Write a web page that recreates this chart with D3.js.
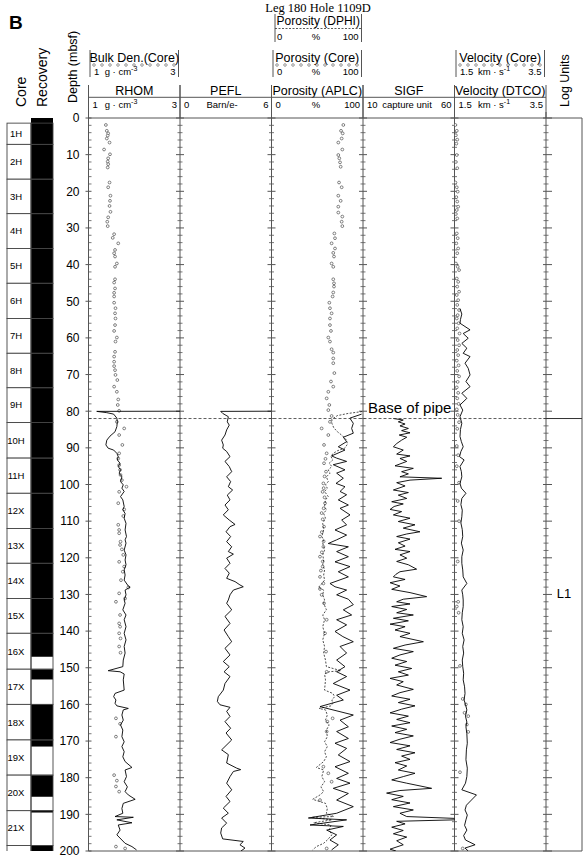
<!DOCTYPE html>
<html>
<head>
<meta charset="utf-8">
<script src="https://cdn.jsdelivr.net/npm/d3@7"></script>
<style>
body { margin: 0; background: #fff; }
text { font-family: Arial, "Liberation Sans", Helvetica, sans-serif; fill: #000; }
</style>
</head>
<body>
<svg id="chart" width="587" height="859"></svg>
<script>
// depth (mbsf), value pairs

var rhomLog = [[80.0,3.0],[80.05,1.18],[80.4,1.40],[80.8,1.55],[81.9,1.62],[82.9,1.63],[84.2,1.62],[85.6,1.58],[86.8,1.47],[87.9,1.40],[89.2,1.38],[90.1,1.43],[90.6,1.55],[91.5,1.62],[92.4,1.65],[93.3,1.63],[94.2,1.69],[95.1,1.65],[96.0,1.70],[96.9,1.67],[97.9,1.73],[99.2,1.70],[100.1,1.76],[101.0,1.73],[101.9,1.78],[103.3,1.70],[104.2,1.75],[106.0,1.78],[106.9,1.75],[107.9,1.80],[109.2,1.78],[110.6,1.82],[112.4,1.80],[114.2,1.83],[115.1,1.80],[116.0,1.82],[117.9,1.78],[119.2,1.82],[120.6,1.80],[121.9,1.82],[123.3,1.78],[124.7,1.80],[126.1,1.78],[127.7,1.87],[128.0,1.91],[128.8,1.80],[130.1,1.82],[131.5,1.78],[132.4,1.80],[134.2,1.75],[135.6,1.82],[136.9,1.78],[138.8,1.82],[140.6,1.78],[142.4,1.82],[144.2,1.78],[146.0,1.80],[147.9,1.76],[149.7,1.75],[150.8,1.43],[151.1,1.69],[151.7,1.78],[153.3,1.76],[156.1,1.78],[157.0,1.58],[157.9,1.55],[158.8,1.60],[159.7,1.58],[160.4,1.62],[161.1,1.87],[161.5,1.76],[162.9,1.73],[164.3,1.76],[165.6,1.70],[167.0,1.75],[168.8,1.73],[170.2,1.78],[171.5,1.73],[172.9,1.78],[174.3,1.75],[175.6,1.80],[177.2,1.95],[177.9,1.80],[179.7,1.83],[181.1,1.78],[182.5,1.85],[183.8,1.80],[184.7,1.87],[185.9,2.02],[187.0,1.76],[188.4,1.73],[189.7,1.75],[190.6,1.58],[190.8,1.98],[191.5,1.62],[192.3,1.95],[192.9,1.65],[194.3,1.69],[195.6,1.62],[197.0,1.73],[197.9,1.80],[198.8,1.95],[199.7,2.05]];

var rhomCore = [[1.9,1.38],[3.5,1.40],[4.2,1.43],[4.8,1.42],[5.6,1.40],[6.7,1.46],[8.6,1.34],[9.9,1.47],[11.0,1.43],[11.9,1.42],[12.6,1.43],[13.5,1.42],[17.6,1.46],[18.9,1.43],[21.2,1.48],[22.6,1.47],[24.0,1.46],[25.6,1.48],[27.1,1.43],[28.3,1.41],[29.5,1.42],[31.7,1.56],[32.7,1.53],[34.2,1.65],[36.0,1.58],[36.9,1.56],[37.8,1.58],[39.7,1.62],[40.6,1.58],[44.0,1.58],[44.9,1.56],[46.5,1.58],[47.7,1.56],[48.7,1.56],[50.4,1.56],[51.9,1.59],[53.3,1.58],[54.7,1.59],[56.5,1.58],[58.1,1.56],[59.9,1.62],[61.0,1.59],[63.8,1.58],[65.1,1.56],[66.5,1.56],[67.7,1.56],[68.8,1.58],[70.1,1.59],[71.5,1.63],[73.3,1.56],[74.7,1.62],[76.8,1.65],[78.3,1.64],[79.9,1.67],[82.9,1.62],[84.7,1.78],[86.5,1.67],[89.2,1.74],[91.5,1.67],[92.9,1.65],[94.7,1.67],[96.0,1.69],[97.4,1.70],[98.8,1.73],[100.6,1.83],[102.0,1.67],[105.1,1.65],[106.8,1.78],[108.6,1.76],[111.0,1.65],[112.4,1.67],[113.3,1.67],[115.6,1.70],[116.5,1.69],[117.7,1.73],[119.2,1.76],[121.1,1.67],[122.4,1.78],[123.8,1.75],[126.1,1.71],[128.1,1.87],[129.7,1.67],[131.1,1.80],[132.0,1.60],[135.6,1.69],[137.9,1.67],[138.8,1.69],[140.6,1.67],[142.0,1.70],[144.2,1.67],[145.9,1.70],[163.8,1.60],[165.3,1.69],[168.8,1.60],[179.3,1.56],[180.8,1.62],[182.4,1.60],[183.8,1.67],[198.8,1.60],[199.3,1.80]];

var pefLog = [[80.0,6.0],[80.05,2.67],[80.6,2.80],[81.5,3.17],[82.9,3.10],[83.8,3.23],[85.1,3.06],[86.5,2.95],[87.9,2.73],[89.2,2.84],[90.1,2.80],[91.0,3.06],[92.4,3.28],[93.7,2.95],[95.1,3.23],[96.5,3.39],[97.9,3.06],[99.2,3.32],[100.6,3.17],[101.5,3.45],[102.9,3.10],[104.2,3.28],[105.6,2.95],[106.9,3.17],[108.3,2.84],[109.7,3.23],[110.9,3.61],[111.5,3.28],[112.9,3.02],[114.2,3.32],[115.6,3.06],[117.0,3.39],[118.3,3.17],[119.0,3.50],[120.1,3.06],[121.5,3.28],[122.9,2.95],[124.2,3.23],[125.6,3.06],[126.5,3.61],[127.4,3.93],[127.9,4.15],[128.8,3.50],[130.1,3.28],[131.5,3.17],[132.4,3.06],[134.2,3.39],[136.0,2.95],[137.9,3.28],[139.7,2.89],[141.5,3.17],[142.9,3.39],[144.7,2.95],[146.5,3.28],[148.3,2.84],[149.7,3.23],[151.1,2.89],[152.4,3.28],[154.3,2.95],[156.1,2.84],[157.9,2.51],[159.2,2.45],[160.1,2.62],[160.8,3.28],[161.9,3.06],[163.3,3.28],[164.7,2.95],[166.5,3.32],[167.8,3.02],[169.7,3.39],[172.4,2.73],[173.7,3.17],[176.0,3.06],[177.4,3.72],[177.8,3.98],[178.3,3.50],[179.7,3.28],[181.5,3.06],[183.3,3.39],[185.1,3.02],[186.5,3.28],[188.3,2.84],[189.7,3.17],[191.0,2.73],[192.4,3.06],[193.7,2.73],[195.1,2.67],[196.7,2.80],[197.4,4.15],[198.3,3.93],[199.2,4.26],[200.0,4.0]];

var aplcLog = [[80.8,98.5],[81.9,85.6],[83.3,89.4],[84.7,87.6],[86.0,89.4],[87.1,78.5],[88.3,82.1],[89.7,73.0],[90.6,80.3],[92.2,65.7],[92.8,71.2],[93.7,82.1],[94.6,67.5],[96.0,80.3],[96.9,71.2],[98.3,78.5],[99.7,70.5],[100.6,80.3],[101.9,74.9],[102.8,82.1],[104.2,73.0],[105.6,84.0],[106.5,74.9],[108.3,85.8],[109.7,76.7],[111.0,82.1],[112.4,69.4],[113.8,82.1],[115.1,71.2],[116.1,62.0],[117.0,84.0],[118.3,71.2],[119.7,84.0],[121.1,69.4],[122.4,85.8],[123.8,73.0],[125.2,84.0],[127.0,63.9],[127.9,69.4],[128.8,82.1],[130.1,71.2],[131.3,84.0],[132.8,89.4],[134.2,78.5],[135.6,87.6],[136.9,71.2],[138.3,82.1],[140.1,69.4],[141.5,78.0],[142.9,89.4],[144.2,74.9],[146.0,82.1],[147.9,71.2],[149.7,80.3],[151.1,71.2],[152.4,82.1],[154.3,67.5],[156.1,85.8],[157.5,71.2],[158.8,78.5],[160.6,53.0],[161.3,63.9],[162.9,89.4],[164.3,74.9],[166.1,84.0],[167.4,71.2],[169.3,84.0],[170.6,69.4],[172.0,82.1],[173.8,73.0],[175.6,85.8],[177.0,69.4],[178.8,84.0],[180.2,71.2],[181.5,85.8],[182.9,67.5],[184.3,84.0],[186.1,71.2],[187.9,89.4],[189.7,71.2],[191.0,40.3],[191.5,82.1],[192.9,42.1],[193.3,78.5],[194.3,60.3],[195.6,71.2],[197.0,63.9],[198.3,73.0],[199.7,65.7]];

var dphiLog = [[80.1,99],[80.6,84],[81.2,72],[82.2,66],[83.3,66],[84.5,68],[85.6,72],[86.8,78],[87.9,82],[89.0,83],[90.1,80],[90.8,72],[91.6,67],[92.4,65],[93.3,67],[94.2,63],[95.1,66],[96.0,62],[96.9,64],[97.9,60],[99.2,62],[100.1,59],[101.0,61],[101.9,58],[103.3,62],[104.2,59],[106.0,58],[106.9,60],[107.9,57],[109.2,59],[110.6,56],[112.4,57],[114.2,55],[115.1,57],[116.0,56],[117.9,58],[119.2,56],[120.6,57],[121.9,56],[123.3,58],[124.7,57],[126.1,58],[127.7,53],[128.0,51],[128.8,57],[130.1,56],[131.5,58],[132.4,57],[134.2,60],[135.6,56],[136.9,58],[138.8,56],[140.6,58],[142.4,56],[144.2,58],[146.0,57],[147.9,59],[149.7,60],[150.8,76],[151.1,63],[151.7,58],[153.3,59],[156.1,58],[157.0,67],[157.9,69],[158.8,66],[159.7,67],[160.4,65],[161.1,52],[161.5,59],[162.9,61],[164.3,59],[165.6,63],[167.0,60],[168.8,61],[170.2,58],[171.5,61],[172.9,58],[174.3,60],[175.6,57],[177.2,49],[177.9,57],[179.7,55],[181.1,58],[182.5,54],[183.8,57],[184.7,53],[185.9,45],[187.0,59],[188.4,61],[189.7,60],[190.6,68],[190.8,44],[191.5,66],[192.3,46],[192.9,65],[194.3,63],[195.6,66],[197.0,61],[197.9,57],[198.8,49],[199.7,45]];

var porCore = [[1.9,78.5],[3.5,76.0],[4.2,77.8],[5.6,76.7],[6.7,73.0],[8.6,77.4],[10.1,73.0],[11.0,74.1],[12.1,74.9],[13.3,75.6],[17.6,73.8],[18.9,76.7],[21.2,73.0],[22.6,75.6],[24.2,73.0],[25.8,73.0],[26.9,77.4],[28.3,76.7],[29.5,77.4],[31.5,68.7],[32.8,69.4],[34.2,65.7],[35.6,69.4],[36.8,67.5],[37.8,68.3],[39.7,65.7],[40.6,67.5],[44.0,67.5],[45.1,68.3],[46.0,68.3],[47.6,67.5],[48.7,66.8],[50.4,63.2],[51.9,63.9],[53.3,65.7],[54.7,63.9],[56.5,63.9],[58.1,65.0],[59.9,62.1],[61.0,63.9],[63.1,65.7],[64.0,67.5],[65.6,67.5],[66.9,67.5],[69.6,68.7],[71.9,65.0],[73.3,67.5],[74.7,62.1],[76.5,60.3],[78.3,63.2],[79.7,62.1],[81.3,65.7],[82.9,63.9],[84.7,54.8],[86.5,62.1],[89.2,57.4],[91.5,60.3],[93.0,59.0],[94.2,57.4],[96.5,59.6],[97.8,58.0],[99.7,56.7],[101.0,57.0],[102.0,55.9],[103.5,58.0],[105.1,58.5],[106.5,57.0],[107.8,54.8],[109.5,56.0],[111.5,57.4],[113.0,55.0],[114.2,53.0],[115.5,57.0],[117.0,56.7],[118.5,55.0],[119.7,53.0],[121.0,56.0],[122.4,55.9],[123.5,54.0],[125.2,53.0],[127.0,56.7],[128.5,53.0],[130.1,54.8],[132.4,57.4],[136.9,60.3],[140.6,58.5],[145.6,59.6],[151.1,60.3],[163.8,66.8],[164.7,61.0],[167.4,60.3],[177.0,56.7],[178.8,62.1],[181.1,65.7],[186.1,53.0],[199.3,60.3]];

var sigfLog = [[82.0,26.6],[82.4,32.0],[82.9,29.3],[83.5,33.0],[84.0,30.2],[84.7,34.8],[85.3,31.1],[85.9,35.7],[86.5,29.8],[87.1,33.9],[87.9,31.1],[88.8,28.5],[89.7,26.6],[90.6,32.0],[91.7,28.4],[92.2,35.7],[92.9,30.2],[93.7,33.9],[94.9,27.5],[95.6,37.5],[96.5,31.1],[97.1,34.8],[97.9,30.2],[98.3,53.0],[98.8,35.7],[99.5,28.4],[100.4,33.0],[101.5,26.6],[102.2,34.8],[102.9,29.3],[103.8,33.9],[104.7,25.7],[105.3,32.0],[106.0,27.0],[106.8,24.8],[107.4,31.1],[108.3,26.6],[109.2,35.7],[110.1,29.3],[111.0,38.4],[111.9,32.0],[112.9,41.1],[113.5,33.9],[114.2,28.4],[114.9,35.7],[115.9,29.3],[116.8,33.0],[117.7,27.5],[118.3,35.7],[119.2,30.2],[120.1,33.9],[121.0,28.4],[121.9,34.8],[123.1,39.3],[123.8,30.2],[124.5,28.0],[125.2,26.6],[125.9,33.0],[126.8,24.8],[127.7,30.2],[128.6,25.7],[129.5,35.7],[130.6,44.8],[131.3,32.0],[132.0,28.4],[132.6,35.7],[133.3,25.7],[134.1,33.9],[135.0,28.4],[135.6,37.5],[136.5,26.6],[137.2,34.8],[138.1,24.8],[138.8,33.0],[139.7,27.5],[140.6,35.7],[141.5,30.2],[142.9,43.0],[143.8,33.0],[144.7,26.6],[145.6,37.5],[146.5,30.2],[147.4,25.7],[148.3,33.9],[149.3,27.5],[150.2,36.6],[151.1,29.3],[152.0,34.8],[152.9,24.8],[153.8,32.0],[154.7,28.4],[155.9,37.5],[156.8,30.2],[157.7,25.7],[158.6,35.7],[159.5,29.3],[160.4,38.4],[161.3,31.1],[162.3,24.8],[163.2,34.8],[164.1,28.4],[165.0,35.7],[165.9,25.7],[166.8,33.9],[167.7,27.5],[168.6,37.5],[169.5,30.2],[170.4,24.8],[171.3,35.7],[172.3,28.4],[173.2,38.4],[174.1,31.1],[175.0,35.7],[175.9,27.5],[176.8,33.9],[177.9,29.3],[178.8,38.4],[179.7,32.0],[180.6,25.7],[181.5,33.9],[182.9,47.5],[183.5,30.2],[184.2,22.9],[185.1,32.0],[186.0,25.7],[186.9,35.7],[187.9,26.6],[188.8,37.5],[189.7,30.2],[190.6,33.9],[191.1,60.0],[191.5,60.0],[191.9,28.4],[192.6,33.0],[193.5,25.7],[194.4,32.0],[195.3,26.6],[196.2,33.9],[197.2,28.4],[198.3,32.0],[199.5,24.8],[200.0,28.0]];

var dtcoLog = [[52.0,1.62],[53.5,1.66],[55.0,1.63],[56.0,1.62],[57.8,1.84],[58.8,1.69],[60.1,1.80],[61.5,1.66],[62.8,1.77],[64.2,1.69],[65.1,1.84],[66.9,1.73],[68.3,1.80],[70.1,1.84],[71.9,1.75],[73.3,1.84],[75.1,1.66],[76.5,1.77],[78.3,1.62],[79.7,1.68],[81.5,1.62],[83.3,1.66],[85.0,1.63],[86.9,1.62],[88.3,1.65],[89.7,1.69],[91.0,1.64],[92.4,1.61],[93.3,1.71],[95.1,1.62],[96.5,1.65],[97.9,1.66],[99.7,1.62],[101.0,1.65],[102.4,1.75],[103.8,1.66],[105.5,1.64],[107.0,1.67],[108.8,1.66],[110.5,1.64],[112.3,1.67],[114.2,1.68],[116.0,1.65],[117.9,1.69],[119.7,1.66],[121.5,1.66],[123.3,1.68],[125.2,1.69],[127.0,1.77],[128.8,1.66],[130.1,1.68],[131.5,1.69],[133.3,1.69],[135.0,1.67],[136.9,1.66],[138.8,1.69],[140.6,1.67],[142.4,1.71],[144.2,1.68],[146.0,1.70],[147.9,1.67],[149.7,1.68],[151.5,1.70],[153.3,1.69],[155.2,1.72],[157.0,1.73],[158.8,1.71],[160.0,1.74],[161.5,1.77],[163.2,1.74],[164.8,1.77],[166.1,1.75],[168.0,1.77],[170.6,1.78],[172.4,1.76],[175.1,1.75],[177.4,1.78],[179.7,1.77],[181.5,1.74],[183.3,1.66],[184.7,1.98],[186.1,1.87],[187.5,1.76],[188.8,1.73],[190.2,1.78],[191.5,1.75],[193.0,1.72],[194.3,1.77],[195.8,1.70],[197.0,1.74],[198.3,1.95],[199.2,1.73],[200.0,1.80]];

var velCore = [[1.9,1.52],[3.5,1.55],[4.7,1.53],[5.9,1.56],[7.0,1.54],[10.1,1.55],[12.0,1.53],[13.7,1.56],[17.6,1.52],[18.9,1.55],[20.1,1.57],[21.6,1.54],[22.8,1.56],[24.2,1.58],[25.1,1.55],[26.2,1.53],[27.4,1.56],[31.5,1.55],[32.8,1.57],[34.2,1.54],[35.6,1.58],[36.9,1.56],[39.7,1.53],[40.6,1.57],[41.5,1.60],[43.8,1.55],[44.7,1.58],[46.0,1.56],[47.4,1.60],[48.3,1.55],[49.7,1.58],[51.0,1.56],[52.4,1.60],[53.8,1.57],[54.7,1.55],[56.0,1.59],[57.4,1.56],[58.8,1.61],[60.6,1.57],[62.0,1.60],[63.3,1.56],[64.7,1.58],[66.2,1.55],[67.5,1.59],[69.0,1.56],[70.5,1.60],[72.0,1.57],[73.5,1.55],[75.0,1.58],[76.5,1.56],[78.0,1.59],[79.5,1.55],[81.0,1.57],[83.0,1.60],[84.8,1.56],[89.5,1.55],[92.0,1.58],[95.0,1.55],[99.5,1.60],[104.5,1.57],[110.0,1.60],[121.0,1.57],[132.0,1.58],[133.3,1.55],[135.0,1.59],[149.5,1.62],[158.5,1.68],[160.0,1.75],[162.3,1.72],[163.2,1.80],[165.5,1.77],[167.5,1.80],[178.5,1.62],[199.3,1.68]];

// cores: name, top, bottom (mbsf) and recovered intervals
var coreNames = ["1H","2H","3H","4H","5H","6H","7H","8H","9H","10H","11H","12X","13X","14X","15X","16X","17X","18X","19X","20X","21X","22X"];
var coreTops = [1.4,7.2,16.7,26.1,35.6,45.1,54.7,64.2,73.6,83.1,92.8,102.4,112.0,121.5,131.1,140.6,150.4,160.0,169.7,179.3,189.0,198.5];
var coreBottoms = [7.2,16.7,26.1,35.6,45.1,54.7,64.2,73.6,83.1,92.8,102.4,112.0,121.5,131.1,140.6,150.4,160.0,169.7,179.3,189.0,198.5,208.0];
var recovered = [[0,147.0],[150.4,153.2],[160.0,171.5],[179.3,185.2],[189.0,189.5],[198.5,208.0]];

var depthTicks = d3.range(0, 201, 10);
var minorTicks = d3.range(0, 201, 2).filter(function(d) { return d % 10 != 0; });
var pipeDepth = 82;

var svg = d3.select("#chart");
var line_col = "#555";

var y = d3.scaleLinear().domain([0, 200]).range([118, 851]);

var xRhom = d3.scaleLinear().domain([1, 3]).range([88.5, 180]);
var xPef = d3.scaleLinear().domain([0, 6]).range([180, 271.5]);
var xPor = d3.scaleLinear().domain([0, 100]).range([271.5, 363]);
var xSig = d3.scaleLinear().domain([10, 60]).range([363, 454.5]);
var xVel = d3.scaleLinear().domain([1.5, 3.5]).range([454.5, 546]);

var tracks = [
	{x: xRhom, name: "RHOM", unit: "g · cm", sup: "-3", ux: 121, lo: "1", hi: "3"},
	{x: xPef, name: "PEFL", unit: "Barn/e-", sup: "", ux: 222, lo: "0", hi: "6"},
	{x: xPor, name: "Porosity (APLC)", unit: "%", sup: "", ux: 316, lo: "0", hi: "100"},
	{x: xSig, name: "SIGF", unit: "capture unit", sup: "", ux: 407, lo: "10", hi: "60"},
	{x: xVel, name: "Velocity (DTCO)", unit: "km · s", sup: "-1", ux: 494, lo: "1.5", hi: "3.5"}
];

// clip paths for each track
var defs = svg.append("defs");
tracks.forEach(function(t, i) {
	var r = t.x.range();
	defs.append("clipPath").attr("id", "clip" + i)
		.append("rect")
		.attr("x", r[0]).attr("y", y(0))
		.attr("width", r[1] - r[0]).attr("height", y(200) - y(0));
});
defs.append("clipPath").attr("id", "clipCore")
	.append("rect").attr("x", 0).attr("y", y(0)).attr("width", 60).attr("height", y(200) - y(0));

// title
svg.append("text").attr("x", 318).attr("y", 11.5)
	.attr("text-anchor", "middle")
	.style("font-family", "'Liberation Serif', 'Times New Roman', serif")
	.style("font-size", "12.5px")
	.text("Leg 180 Hole 1109D");

svg.append("text").attr("x", 9).attr("y", 29)
	.style("font-size", "19px").style("font-weight", "bold").text("B");

// rotated column titles
function vtext(x, yy, size, txt) {
	svg.append("text")
		.attr("transform", "translate(" + x + "," + yy + ") rotate(-90)")
		.style("font-size", size + "px")
		.text(txt);
}
vtext(26, 107, 14, "Core");
vtext(47, 107, 14, "Recovery");
vtext(77, 103, 12.5, "Depth (mbsf)");
vtext(569, 107, 12.5, "Log Units");

// header per track
var head = svg.append("g");
function hline(g, x1, x2, yy, dash) {
	g.append("line").attr("x1", x1).attr("x2", x2).attr("y1", yy).attr("y2", yy)
		.attr("stroke", dash ? "#333" : line_col).attr("stroke-width", dash ? 0.8 : 1)
		.attr("stroke-dasharray", dash || null);
}
function vline(g, xx, y1, y2) {
	g.append("line").attr("x1", xx).attr("x2", xx).attr("y1", y1).attr("y2", y2)
		.attr("stroke", line_col).attr("stroke-width", 1);
}
function scaleRow(g, x0, x1, yy, lo, hi, unit, sup, ux) {
	g.append("text").attr("x", x0 + 4).attr("y", yy).style("font-size", "9.5px").text(lo);
	g.append("text").attr("x", x1 - 3).attr("y", yy).attr("text-anchor", "end").style("font-size", "9.5px").text(hi);
	var u = g.append("text").attr("x", ux).attr("y", yy).attr("text-anchor", "middle").style("font-size", "9.5px").text(unit);
	if (sup) u.append("tspan").attr("dy", -4).style("font-size", "7px").text(sup);
}

tracks.forEach(function(t) {
	var r = t.x.range();
	vline(head, r[0], 85, 118);
	vline(head, r[1], 85, 118);
	head.append("text").attr("x", (r[0] + r[1]) / 2).attr("y", 95)
		.attr("text-anchor", "middle").style("font-size", "12.5px").text(t.name);
	scaleRow(head, r[0], r[1], 108, t.lo, t.hi, t.unit, t.sup, t.ux);
});
hline(head, 88.5, 546, 97.3);

// core data headers with circle legend
var coreHeads = [
	{x: xRhom, name: "Bulk Den.(Core)", t: tracks[0]},
	{x: xPor, name: "Porosity (Core)", t: tracks[2]},
	{x: xVel, name: "Velocity (Core)", t: tracks[4]}
];
coreHeads.forEach(function(c) {
	var r = c.x.range();
	var x0 = r[0] + 1.5, x1 = r[1] - 1.5;
	vline(head, x0, 50, 77);
	vline(head, x1, 50, 77);
	head.append("text").attr("x", (x0 + x1) / 2).attr("y", 62)
		.attr("text-anchor", "middle").style("font-size", "12.5px").text(c.name);
	head.selectAll(null).data(d3.range(x0 + 4, x1 - 2, 8)).join("circle")
		.attr("cx", function(d) { return d; }).attr("cy", 65)
		.attr("r", 1.3).attr("fill", "#fff").attr("stroke", "#555").attr("stroke-width", 0.6);
	scaleRow(head, x0, x1, 75, c.t.lo, c.t.hi, c.t.unit, c.t.sup, c.t.ux);
});

// DPHI header
(function() {
	var r = xPor.range();
	var x0 = r[0] + 3.5, x1 = r[1] - 1.5;
	vline(head, x0, 14, 42);
	vline(head, x1, 14, 42);
	head.append("text").attr("x", (x0 + x1) / 2).attr("y", 24.5)
		.attr("text-anchor", "middle").style("font-size", "12px").text("Porosity (DPHI)");
	hline(head, x0, x1, 28.5, "2,1.5");
	scaleRow(head, x0 - 2, x1, 39.5, "0", "100", "%", "", 316);
})();

// track frame
var frame = svg.append("g");
tracks.forEach(function(t) { vline(frame, t.x.range()[0], 118, 851); });
vline(frame, 546, 112, 851);
vline(frame, 582, 118, 851);
hline(frame, 88.5, 582, y(0));
hline(frame, 88.5, 582, y(200));

// depth ticks on every border
function borderTicks(xx, minL, minR, majL, majR) {
	frame.selectAll(null).data(minorTicks).join("line")
		.attr("x1", xx - minL).attr("x2", xx + minR)
		.attr("y1", function(d) { return y(d); }).attr("y2", function(d) { return y(d); })
		.attr("stroke", line_col).attr("stroke-width", 0.8);
	frame.selectAll(null).data(depthTicks).join("line")
		.attr("x1", xx - majL).attr("x2", xx + majR)
		.attr("y1", function(d) { return y(d); }).attr("y2", function(d) { return y(d); })
		.attr("stroke", line_col).attr("stroke-width", 1);
}
borderTicks(88.5, 0, 3, 3, 3);
[180, 271.5, 363, 454.5].forEach(function(xx) { borderTicks(xx, 2.5, 2.5, 4, 4); });
borderTicks(546, 2.5, 2.5, 3, 6);

// depth labels
var axis = svg.append("g").attr("transform", "translate(88.5,0)")
	.call(d3.axisLeft(y).tickValues(depthTicks).tickSize(0).tickPadding(9));
axis.select(".domain").remove();
axis.selectAll("text").style("font-size", "12px").style("font-family", "Arial, 'Liberation Sans', sans-serif");

// core and recovery columns
var cores = svg.append("g").attr("clip-path", "url(#clipCore)");
cores.selectAll(".rec").data(recovered).join("rect")
	.attr("x", 31).attr("width", 22)
	.attr("y", function(d) { return y(d[0]); })
	.attr("height", function(d) { return y(d[1]) - y(d[0]); })
	.attr("fill", "#000");
cores.selectAll(".core").data(coreNames).join("rect")
	.attr("x", 7).attr("width", 24)
	.attr("y", function(d, i) { return y(coreTops[i]); })
	.attr("height", function(d, i) { return y(coreBottoms[i]) - y(coreTops[i]); })
	.attr("fill", "#fff").attr("stroke", "#444").attr("stroke-width", 0.9);
cores.selectAll(".recbox").data(coreNames).join("rect")
	.attr("x", 31).attr("width", 22)
	.attr("y", function(d, i) { return y(coreTops[i]); })
	.attr("height", function(d, i) { return y(coreBottoms[i]) - y(coreTops[i]); })
	.attr("fill", "none").attr("stroke", "#444").attr("stroke-width", 0.9);
// label only the cores whose middle lies inside the plotted depth range
var shownCores = coreNames.filter(function(d, i) { return (coreTops[i] + coreBottoms[i]) / 2 < 200; });
cores.selectAll(".lab").data(shownCores).join("text")
	.attr("x", 16)
	.attr("y", function(d, i) { return y((coreTops[i] + coreBottoms[i]) / 2); })
	.attr("dy", "0.35em").attr("text-anchor", "middle")
	.style("font-size", "9.5px")
	.text(function(d) { return d; });

// curves and core points
function drawLine(data, x, clip, dash, width) {
	svg.append("path").datum(data)
		.attr("clip-path", "url(#clip" + clip + ")")
		.attr("fill", "none").attr("stroke", "#000")
		.attr("stroke-width", width || 0.9)
		.attr("stroke-dasharray", dash || null)
		.attr("d", d3.line().x(function(d) { return x(d[1]); }).y(function(d) { return y(d[0]); }));
}
function drawDots(data, x, clip) {
	svg.append("g").attr("clip-path", "url(#clip" + clip + ")")
		.selectAll("circle").data(data).join("circle")
		.attr("cx", function(d) { return x(d[1]); })
		.attr("cy", function(d) { return y(d[0]); })
		.attr("r", 1.4).attr("fill", "#fff")
		.attr("stroke", "#333").attr("stroke-width", 0.6);
}

drawDots(rhomCore, xRhom, 0);
drawLine(rhomLog, xRhom, 0);
drawLine(pefLog, xPef, 1);
drawDots(porCore, xPor, 2);
drawLine(dphiLog, xPor, 2, "2,1.5", 0.7);
drawLine(aplcLog, xPor, 2);
drawLine(sigfLog, xSig, 3);
drawDots(velCore, xVel, 4);
drawLine(dtcoLog, xVel, 4);

// base of pipe and log units
hline(svg, 88.5, 546, y(pipeDepth), "3,2");
svg.append("line").attr("x1", 546).attr("x2", 582)
	.attr("y1", y(pipeDepth)).attr("y2", y(pipeDepth))
	.attr("stroke", "#333").attr("stroke-width", 1);
svg.append("text").attr("x", 368).attr("y", y(pipeDepth) - 6)
	.style("font-size", "15px").text("Base of pipe");
svg.append("text").attr("x", 564).attr("y", 598)
	.attr("text-anchor", "middle").style("font-size", "13px").text("L1");
</script>
</body>
</html>
